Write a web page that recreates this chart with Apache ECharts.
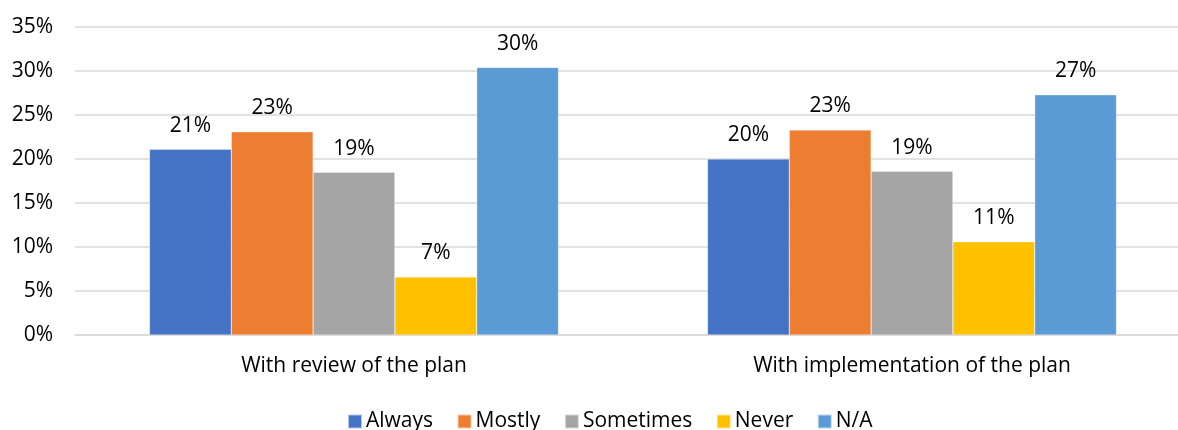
<!DOCTYPE html>
<html>
<head>
<meta charset="utf-8">
<script src="https://cdn.jsdelivr.net/npm/echarts@6/dist/echarts.min.js"></script>
<style>html,body{margin:0;padding:0;background:#fff;overflow:hidden}#c{width:1191px;height:430px}</style>
</head>
<body>
<div id="c"></div>
<script>
const categories = ["With review of the plan", "With implementation of the plan"];
const seriesNames = ["Always", "Mostly", "Sometimes", "Never", "N/A"];
const always = [21.1, 20.0];
const mostly = [23.1, 23.3];
const sometimes = [18.5, 18.6];
const never = [6.6, 10.6];
const na = [30.4, 27.3];
const colors = ["#4472C4", "#ED7D31", "#A5A5A5", "#FFC000", "#5B9BD5"];
const yTicks = [0, 5, 10, 15, 20, 25, 30, 35];

const allData = [always, mostly, sometimes, never, na];
const font = "Open Sans";
const fs = 21;
const chart = echarts.init(document.getElementById('c'));
chart.setOption({
  animation: false,
  color: colors,
  textStyle: { fontFamily: font, color: "#000" },
  grid: { left: 75, top: 27, right: 0, height: 308, containLabel: false },
  legend: {
    bottom: -2,
    left: 347,
    padding: 0,
    itemWidth: 14, itemHeight: 14, itemGap: 23.5,
    icon: 'rect',
    textStyle: { fontFamily: font, fontSize: 21, color: "#000", padding: [0, 0, 0, -1] },
    data: seriesNames
  },
  xAxis: {
    type: 'category',
    data: categories,
    axisLine: { show: true, lineStyle: { color: "#D9D9D9", width: 1.5 } },
    axisTick: { show: false },
    axisLabel: { margin: 21, fontSize: fs, color: "#000", fontFamily: font }
  },
  yAxis: {
    type: 'value',
    min: yTicks[0], max: yTicks[yTicks.length - 1], interval: 5,
    axisLine: { show: false },
    axisTick: { show: false },
    splitLine: { lineStyle: { color: "#D9D9D9", width: 1.5 } },
    axisLabel: { margin: 22, fontSize: fs, color: "#000", fontFamily: font, formatter: v => v + '%' }
  },
  series: seriesNames.map((n, i) => ({
    name: n,
    type: 'bar',
    data: allData[i],
    barGap: '0%',
    barCategoryGap: '26.7%',
    itemStyle: { color: colors[i], borderColor: 'rgba(255,255,255,0.6)', borderWidth: 0.5 },
    label: {
      show: true, position: 'top', distance: 13,
      fontSize: fs, color: "#000", fontFamily: font,
      formatter: p => Math.round(p.value) + '%'
    }
  }))
});
</script>
</body>
</html>
